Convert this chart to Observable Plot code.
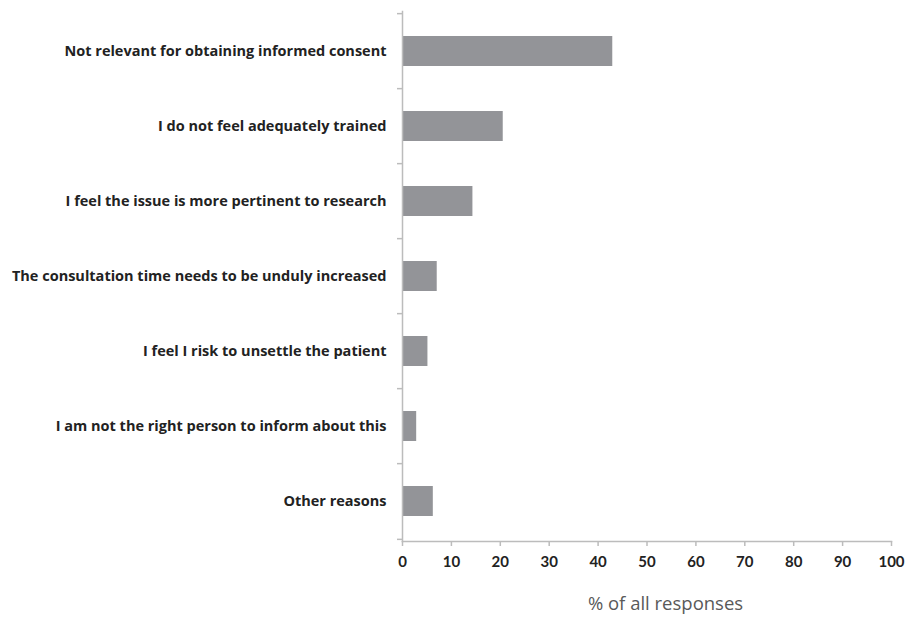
<!DOCTYPE html>
<html>
<head>
<meta charset="utf-8">
<script src="https://cdn.jsdelivr.net/npm/d3@7"></script>
<script src="https://cdn.jsdelivr.net/npm/@observablehq/plot@0.6"></script>
<style>
  html, body { margin: 0; padding: 0; background: #fff; }
</style>
</head>
<body>
<div id="chart"></div>
<script>
const categories = [
  "Not relevant for obtaining informed consent",
  "I do not feel adequately trained",
  "I feel the issue is more pertinent to research",
  "The consultation time needs to be unduly increased",
  "I feel I risk to unsettle the patient",
  "I am not the right person to inform about this",
  "Other reasons"
];
const values = [43, 20.6, 14.4, 7.1, 5.2, 2.9, 6.3];
const xTicks = [0, 10, 20, 30, 40, 50, 60, 70, 80, 90, 100];
const xLabel = "% of all responses";

const data = categories.map((c, i) => ({category: c, value: values[i]}));

const width = 920, height = 617;
const marginTop = 11, marginBottom = 76, marginLeft = 402, marginRight = 29;
const step = (height - marginTop - marginBottom) / categories.length;
const axisColor = "#bcbcbc";

const chart = Plot.plot({
  width, height, marginTop, marginBottom, marginLeft, marginRight,
  style: {fontFamily: "'Open Sans', Lato, sans-serif", background: "#fff", overflow: "visible"},
  x: {domain: [0, 100]},
  y: {domain: categories, paddingInner: 0.6, paddingOuter: 0.3},
  marks: [
    Plot.barX(data, {x: "value", y: "category", fill: "#939498"}),
    Plot.frame({anchor: "left", stroke: axisColor, strokeWidth: 1.5, strokeOpacity: 1}),
    Plot.frame({anchor: "bottom", stroke: axisColor, strokeWidth: 1.5, strokeOpacity: 1}),
    Plot.axisY({tickSize: 5, dy: -step / 2, tickFormat: () => "", stroke: axisColor, strokeWidth: 1.5, strokeOpacity: 1, label: null}),
    Plot.axisY({ticks: [categories[categories.length - 1]], tickSize: 5, dy: step / 2, tickFormat: () => "", stroke: axisColor, strokeWidth: 1.5, strokeOpacity: 1, label: null}),
    Plot.axisY({tickSize: 0, tickPadding: 16, fontSize: 14.5, fontWeight: "bold", fill: "#222", label: null}),
    Plot.axisX({ticks: xTicks, tickSize: 5, tickPadding: 10, stroke: axisColor, strokeWidth: 1.5, strokeOpacity: 1, fontSize: 15, fontWeight: "bold", fill: "#222", fontFamily: "Lato, sans-serif", label: null}),
    Plot.text([xLabel], {text: d => d, frameAnchor: "bottom", dx: 18.5, dy: 68, fontSize: 18.5, fill: "#595959"})
  ]
});
document.getElementById("chart").appendChild(chart);
</script>
</body>
</html>
